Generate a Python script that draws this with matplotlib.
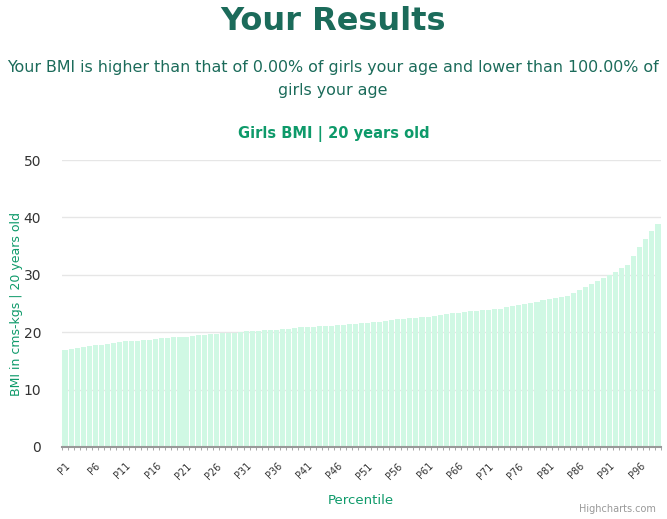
import matplotlib
matplotlib.use("Agg")
import matplotlib.pyplot as plt

percentiles = [f"P{i}" for i in range(1, 100)]
bmi_values = [
    16.9, 17.07, 17.25, 17.42, 17.6, 17.77, 17.77, 17.94, 18.12, 18.29,
    18.47, 18.47, 18.47, 18.64, 18.64, 18.82, 18.99, 18.99, 19.16, 19.16,
    19.16, 19.34, 19.51, 19.51, 19.69, 19.69, 19.86, 19.86, 19.86, 20.03,
    20.21, 20.21, 20.21, 20.38, 20.38, 20.38, 20.56, 20.56, 20.73, 20.91,
    20.91, 20.91, 21.08, 21.08, 21.08, 21.25, 21.25, 21.43, 21.43, 21.6,
    21.6, 21.78, 21.78, 21.95, 22.13, 22.3, 22.3, 22.47, 22.47, 22.65,
    22.65, 22.82, 23.0, 23.17, 23.29, 23.29, 23.52, 23.69, 23.69, 23.87,
    23.87, 24.04, 24.04, 24.39, 24.56, 24.74, 24.91, 25.09, 25.26, 25.61,
    25.78, 25.96, 26.13, 26.31, 26.83, 27.35, 27.87, 28.4, 28.92, 29.44,
    29.97, 30.49, 31.18, 31.71, 33.28, 34.84, 36.24, 37.63, 38.85,
]
y_ticks = [0, 10, 20, 30, 40, 50]

title_text = "Your Results"
subtitle_line1 = "Your BMI is higher than that of 0.00% of girls your age and lower than 100.00% of"
subtitle_line2 = "girls your age"
chart_title = "Girls BMI | 20 years old"
x_title = "Percentile"
y_title = "BMI in cms-kgs | 20 years old"

W, H = 667, 519
fig = plt.figure(figsize=(W / 100, H / 100), dpi=100)
plt.rcParams['font.family'] = ['DejaVu Sans']

left, right, top, bottom = 62, 661, 160, 447
ax = fig.add_axes([left / W, 1 - bottom / H, (right - left) / W, (bottom - top) / H])

x = list(range(len(percentiles)))
ax.bar(x, bmi_values, width=0.84, color="#d0f8e4", edgecolor="none", zorder=2)

ax.set_xlim(-0.5, len(percentiles) - 0.5)
ax.set_ylim(0, 50)
ax.set_yticks(y_ticks)
ax.set_yticklabels([str(v) for v in y_ticks], fontsize=10, color="#333333")
ax.yaxis.grid(True, color="#e6e6e6", linewidth=1, zorder=0)
ax.tick_params(axis="y", length=0, pad=15)

tick_pos = list(range(0, len(percentiles), 5))
ax.set_xticks(tick_pos)
ax.set_xticklabels([percentiles[i] for i in tick_pos], rotation=45, ha="right",
                   rotation_mode="anchor", fontsize=7, color="#333333")
ax.set_xticks([i + 0.5 for i in range(-1, len(percentiles))], minor=True)
ax.tick_params(axis="x", which="major", length=0, pad=10)
ax.tick_params(axis="x", which="minor", length=2, color="#999999")

for s in ["top", "right", "left"]:
    ax.spines[s].set_visible(False)
ax.spines["bottom"].set_color("#999999")
ax.spines["bottom"].set_linewidth(1.5)
ax.spines["bottom"].set_zorder(3)

ax.set_ylabel(y_title, fontsize=9, color="#0e9a6a")
ax.yaxis.set_label_coords((23 - left) / (right - left), 0.5)
fig.text(361 / W, 1 - 501 / H, x_title, ha="center", va="center", fontsize=9.5,
         color="#0e9a6a")

fig.text(0.5, 1 - 21 / H, title_text, ha="center", va="center", fontsize=23,
         fontweight="bold", color="#1b6b5a")
fig.text(333 / W, 1 - 67 / H, subtitle_line1, ha="center", va="center", fontsize=11.45,
         color="#1b6b5a")
fig.text(333 / W, 1 - 91 / H, subtitle_line2, ha="center", va="center", fontsize=11.45,
         color="#1b6b5a")
fig.text(0.5, 1 - 134 / H, chart_title, ha="center", va="center", fontsize=10.5,
         fontweight="bold", color="#0e9a6a")
fig.text(656 / W, 1 - 509 / H, "Highcharts.com", ha="right", va="center",
         fontsize=7, color="#999999")

fig.savefig("out.png", dpi=100)
